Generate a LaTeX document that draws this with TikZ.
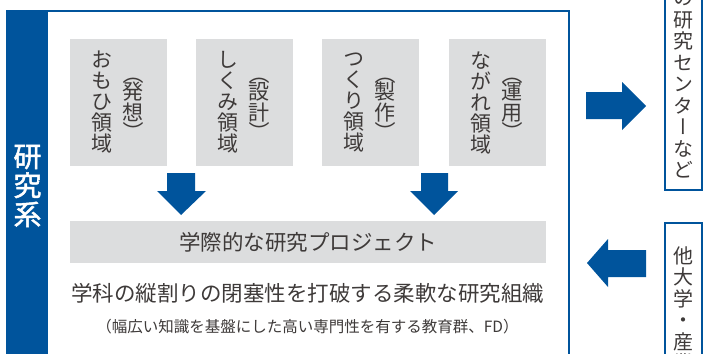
\documentclass[tikz,border=0pt]{standalone}
\usepackage{fontspec}
\setmainfont{Noto Sans CJK JP}
\newfontfamily\tatefont[RawFeature=+vert]{Noto Sans CJK JP}
\newfontfamily\keifont[RawFeature=+vert,FakeBold=1.6]{Noto Sans CJK JP}
\usepackage{tikz}
\usetikzlibrary{calc}
\definecolor{kenblue}{RGB}{0,84,156}
\definecolor{areagray}{RGB}{220,221,222}
\definecolor{inkgray}{RGB}{62,58,57}
\newcommand{\kakkoL}{\rotatebox[origin=c]{-90}{（}}
\newcommand{\kakkoR}{\rotatebox[origin=c]{-90}{）}}
\tikzset{
  area/.style={fill=areagray, inner sep=0pt, minimum width=97pt, minimum height=127pt},
  tate/.style={inner sep=0pt, align=center, text=inkgray, font=\tatefont\fontsize{21}{21}\selectfont},
  kakko/.style={inner sep=0pt, align=center, text=inkgray, font=\fontsize{21}{21}\selectfont},
  outbox/.style={draw=kenblue, line width=2pt, fill=white, inner sep=0pt, minimum width=37pt},
  yoko/.style={inner sep=0pt, text=inkgray, font=\fontsize{21.5}{21.5}\selectfont},
}

\begin{document}
\begin{tikzpicture}[x=1pt,y=1pt,yscale=-1,xscale=1]
    \useasboundingbox (0,0) rectangle (703,353);
    \clip (0,0) rectangle (703,353);

    %Frame of the research system
    \draw [kenblue, line width=2.2pt, fill=white] (7,11) rectangle (569,370);
    \fill [kenblue] (7,11) rectangle (48,370);
    \node [inner sep=0pt, align=center, text=white, font=\keifont\fontsize{28}{29}\selectfont] (kei) at (27.5,186) {研\\究\\系};

    %Four areas
    \node [area] (omohi) at (118.5,102.5) {};
    \node [area] (shikumi) at (244.5,102.5) {};
    \node [area] (tsukuri) at (370.5,102.5) {};
    \node [area] (nagare) at (497.5,102.5) {};
    % Text Node
    \node [tate] at ($(omohi.center)+(-16.5,0)$) {お\\も\\ひ\\領\\域};
    \node [kakko] at ($(omohi.center)+(14.5,0)$) {\kakkoL\\[-2.5pt]発\\想\\[-2.5pt]\kakkoR};
    \node [tate] at ($(shikumi.center)+(-16.5,0)$) {し\\く\\み\\領\\域};
    \node [kakko] at ($(shikumi.center)+(14.5,0)$) {\kakkoL\\[-2.5pt]設\\計\\[-2.5pt]\kakkoR};
    \node [tate] at ($(tsukuri.center)+(-16.5,0)$) {つ\\く\\り\\領\\域};
    \node [kakko] at ($(tsukuri.center)+(14.5,0)$) {\kakkoL\\[-2.5pt]製\\作\\[-2.5pt]\kakkoR};
    \node [tate] at ($(nagare.center)+(-16.5,0)$) {な\\が\\れ\\領\\域};
    \node [kakko] at ($(nagare.center)+(14.5,0)$) {\kakkoL\\[-2.5pt]運\\用\\[-2.5pt]\kakkoR};

    %Shape: Down Arrows
    \fill [kenblue] (167,173) -- (195,173) -- (195,191) -- (206,191) -- (181,215) -- (157,191) -- (167,191) -- cycle;
    \fill [kenblue] (421,173) -- (448,173) -- (448,191) -- (458,191) -- (434,215) -- (410,191) -- (421,191) -- cycle;

    %Project band
    \node [fill=areagray, inner sep=0pt, minimum width=476pt, minimum height=42pt] (project) at (308,242) {};
    \node [yoko] at (project.center) {学際的な研究プロジェクト};
    % Text Node
    \node [yoko] (soshiki) at (307.5,293) {学科の縦割りの閉塞性を打破する柔軟な研究組織};
    \node [inner sep=0pt, text=inkgray, font=\fontsize{15.5}{15.5}\selectfont] (kyoiku) at (307.5,327) {（幅広い知識を基盤にした高い専門性を有する教育群、FD）};

    %Outside boxes
    \node [outbox, minimum height=210pt] (center) at (683.5,85) {};
    \node [tate, font=\tatefont\fontsize{20}{21.5}\selectfont] at (683.5,85) {の\\研\\究\\セ\\ン\\タ\\ー\\な\\ど};
    \node [outbox, minimum height=150pt] (tadaigaku) at (683.5,298) {};
    \node [tate, font=\tatefont\fontsize{20}{21.5}\selectfont] at (683,309.5) {他\\大\\学\\・\\産\\業};

    %Shape: Side Arrows
    \fill [kenblue] (586,92) -- (622,92) -- (622,82) -- (646,106) -- (622,130) -- (622,119) -- (586,119) -- cycle;
    \fill [kenblue] (646,250) -- (608,250) -- (608,239) -- (587,263) -- (608,287) -- (608,277) -- (646,277) -- cycle;
\end{tikzpicture}
\end{document}
